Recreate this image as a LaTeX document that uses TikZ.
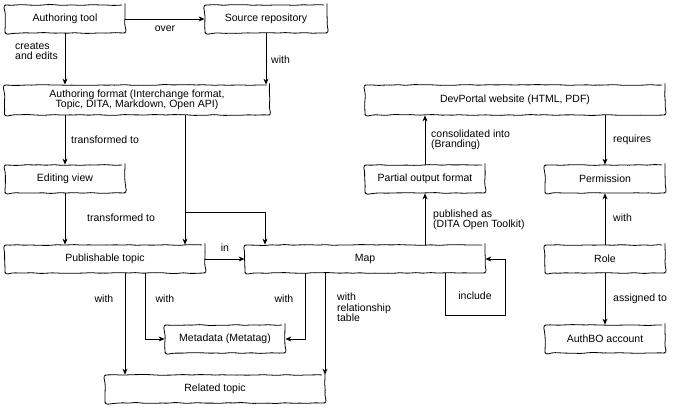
\documentclass[tikz,border=0pt]{standalone}
\usepackage{fontspec}
\setmainfont{Liberation Sans}
\usetikzlibrary{positioning,arrows.meta,decorations.pathmorphing}
\begin{document}
\begin{tikzpicture}[x=1pt,y=-1pt,
  every node/.style={font=\fontsize{10.5}{12.5}\selectfont},
  box/.style={draw, thick, rounded corners=3pt, minimum height=28pt, inner sep=2pt,
    align=center, decorate, decoration={random steps,segment length=5pt,amplitude=0.5pt}},
  arr/.style={-{Stealth[length=6pt,width=5pt]}, thick},
  lbl/.style={align=left, inner sep=1pt}]
\useasboundingbox (0,0) rectangle (691,411);
% nodes
\node[box, minimum width=120pt] (tool) at (65,19) {Authoring tool};
\node[box, minimum width=122pt] (repo) at (266,19) {Source repository};
\node[box, minimum width=265pt, minimum height=30pt, inner sep=0pt] (format) at (137,100)
  {Authoring format (Interchange format,\\[-2pt] Topic, DITA, Markdown, Open API)};
\node[box, minimum width=120pt] (edit) at (65,179) {Editing view};
\node[box, minimum width=200pt] (pub) at (105,259) {Publishable topic};
\node[box, minimum width=240pt] (map) at (365,259) {Map};
\node[box, minimum width=120pt] (meta) at (225,339) {Metadata (Metatag)};
\node[box, minimum width=220pt] (rel) at (215,389) {Related topic};
\node[box, minimum width=300pt, minimum height=30pt] (portal) at (515,100) {DevPortal website (HTML, PDF)};
\node[box, minimum width=120pt] (partial) at (425,179) {Partial output format};
\node[box, minimum width=120pt] (perm) at (605,179) {Permission};
\node[box, minimum width=120pt] (role) at (605,259) {Role};
\node[box, minimum width=120pt] (acct) at (605,339) {AuthBO account};
\coordinate (bend) at (185,212);
\coordinate (loopa) at (445,315);
\coordinate (loopb) at (505,315);
% connectors
\draw[arr] (tool) -- (repo);
\draw[arr] (tool) -- (format.north -| tool.south);
\draw[arr] (repo.south) -- (repo.south |- format.north);
\draw[arr] (edit.north |- format.south) -- (edit);
\draw[arr] (edit) -- (pub.north -| edit.south);
\draw[arr] (format.south -| bend) -- (pub.north -| bend);
\draw[arr] (format.south -| bend) -- (bend) -| (map.north -| 265,0);
\draw[arr] (pub) -- (map);
\draw[arr] (pub.south -| 125,0) -- (rel.north -| 125,0);
\draw[arr] (pub.south -| 145,0) |- (meta.west);
\draw[arr] (map.south -| 305,0) |- (meta.east);
\draw[arr] (map.south -| 325,0) -- (rel.north -| 325,0);
\draw[arr] (map.south -| loopa) -- (loopa) -- (loopb) |- (map.east);
\draw[arr] (map.north -| partial) -- (partial);
\draw[arr] (partial) -- (portal.south -| partial);
\draw[arr] (portal.south -| perm) -- (perm);
\draw[arr] (role) -- (perm);
\draw[arr] (role) -- (acct);
% labels
\node[lbl] (l1) at (165,29) {over};
\node[lbl, anchor=west] (l2) at (14,51) {creates\\[-2pt]and edits};
\node[lbl, anchor=west] (l3) at (270,60) {with};
\node[lbl, anchor=west] (l4) at (70,140) {transformed to};
\node[lbl, anchor=west] (l5) at (86,218) {transformed to};
\node[lbl] (l6) at (225,248) {in};
\node[lbl] (l7) at (104,299) {with};
\node[lbl] (l8) at (165,299) {with};
\node[lbl] (l9) at (284,299) {with};
\node[lbl, anchor=north west] (l10) at (336,292) {with\\[-2pt]relationship\\[-2pt]table};
\node[lbl] (l11) at (475,296) {include};
\node[lbl, anchor=west] (l12) at (432,220) {published as\\[-2pt](DITA Open Toolkit)};
\node[lbl, anchor=west] (l13) at (430,140) {consolidated into\\[-2pt](Branding)};
\node[lbl, anchor=west] (l14) at (612,140) {requires};
\node[lbl, anchor=west] (l15) at (612,218) {with};
\node[lbl, anchor=west] (l16) at (612,299) {assigned to};
\end{tikzpicture}
\end{document}
